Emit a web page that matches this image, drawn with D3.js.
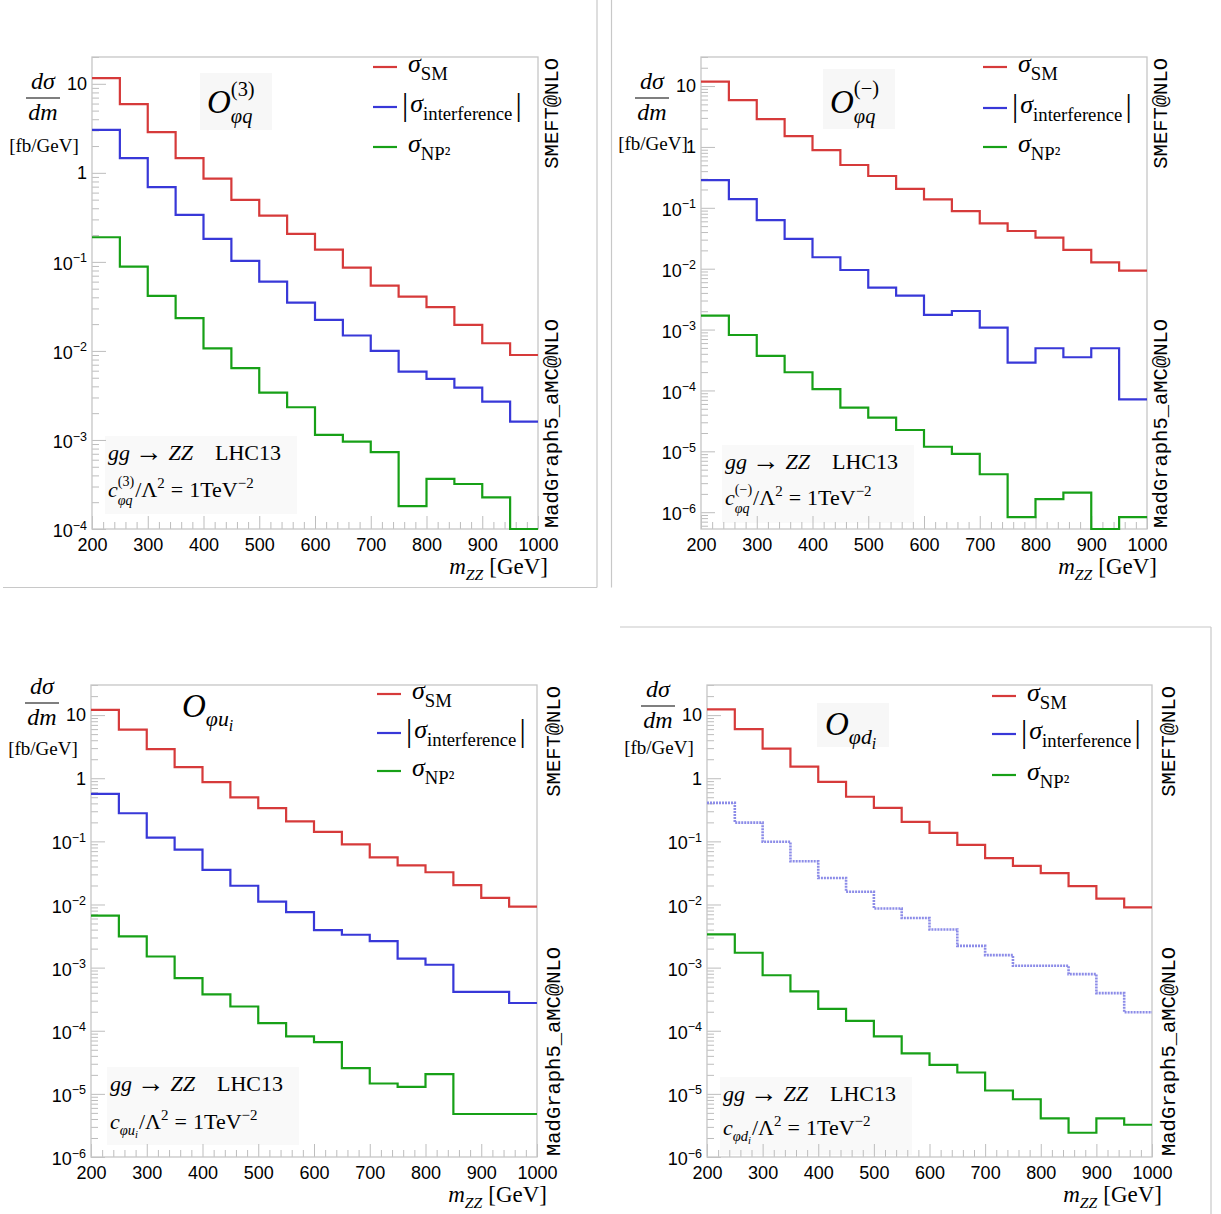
<!DOCTYPE html>
<html>
<head>
<meta charset="utf-8">
<script src="https://cdn.jsdelivr.net/npm/d3@7"></script>
<style>
  body { margin: 0; background: #fff; }
  svg { display: block; }
</style>
</head>
<body>
<svg id="fig" width="1221" height="1214"></svg>
<script>
// ---- bin edges of m_ZZ [GeV] and axis tick values ----
const massEdges = [200, 250, 300, 350, 400, 450, 500, 550, 600, 650, 700, 750, 800, 850, 900, 950, 1000];
const xTickValues = [200, 300, 400, 500, 600, 700, 800, 900, 1000];
const xTickLabels = ["200", "300", "400", "500", "600", "700", "800", "900", "1000"];

// ---- O_phiq^(3) : dsigma/dm [fb/GeV] per bin ----
const smPhiq3  = [11.6, 5.9, 2.87, 1.46, 0.863, 0.497, 0.331, 0.206, 0.137, 0.0863, 0.0542, 0.0407, 0.031, 0.0196, 0.0122, 0.0090];
const intPhiq3 = [3.04, 1.46, 0.69, 0.337, 0.181, 0.1025, 0.0601, 0.0349, 0.0223, 0.0149, 0.0100, 0.00585, 0.00485, 0.00387, 0.00269, 0.00161];
const np2Phiq3 = [0.189, 0.0885, 0.0415, 0.0233, 0.0107, 0.0064, 0.0034, 0.00233, 0.00114, 0.00096, 0.00073, 0.000181, 0.000365, 0.00032, 0.000227, 0.00009];

// ---- O_phiq^(-) ----
const smPhiqM  = [11.8, 5.89, 2.87, 1.51, 0.889, 0.505, 0.333, 0.204, 0.138, 0.0885, 0.0556, 0.0416, 0.0323, 0.0203, 0.0127, 0.00927];
const intPhiqM = [0.286, 0.139, 0.063, 0.0308, 0.0154, 0.00952, 0.00488, 0.0036, 0.00174, 0.00202, 0.00108, 0.000286, 0.000493, 0.000351, 0.000493, 0.0000716];
const np2PhiqM = [0.00169, 0.000815, 0.000369, 0.000199, 0.000105, 0.0000522, 0.0000358, 0.0000224, 0.0000119, 0.00000906, 0.0000042, 0.00000083, 0.00000164, 0.0000021, 0.00000045, 0.00000083];

// ---- O_phiu_i ----
const smPhiu  = [12.1, 5.87, 2.9, 1.5, 0.871, 0.499, 0.337, 0.208, 0.141, 0.0893, 0.0559, 0.0418, 0.0324, 0.0203, 0.0127, 0.00927];
const intPhiu = [0.566, 0.279, 0.115, 0.0738, 0.0354, 0.0198, 0.0111, 0.00757, 0.00392, 0.00332, 0.00262, 0.00139, 0.00111, 0.000412, 0.000412, 0.000275];
const np2Phiu = [0.00667, 0.00312, 0.0015, 0.000684, 0.000377, 0.000242, 0.000132, 0.0000817, 0.0000659, 0.0000255, 0.0000146, 0.0000129, 0.0000206, 0.0000048, 0.0000048, 0.0000048];

// ---- O_phid_i ----
const smPhid  = [12.3, 5.98, 2.94, 1.53, 0.877, 0.509, 0.34, 0.203, 0.136, 0.0883, 0.0542, 0.041, 0.0315, 0.0196, 0.0124, 0.0090];
const intPhid = [0.407, 0.198, 0.0986, 0.0485, 0.0263, 0.0159, 0.00864, 0.0061, 0.00402, 0.00221, 0.00158, 0.00107, 0.00107, 0.000789, 0.000394, 0.000196];
const np2Phid = [0.00336, 0.00172, 0.000757, 0.000422, 0.000222, 0.000143, 0.0000817, 0.0000437, 0.0000288, 0.0000218, 0.0000113, 0.00000822, 0.0000041, 0.00000242, 0.0000041, 0.00000324];

const COLORS = { sm: "#d63a3a", int: "#3838d8", np2: "#17a017" };
const SERIF = "'Liberation Serif', 'Times New Roman', serif";
const SANS = "'Liberation Sans', Arial, sans-serif";
const MONO = "'Liberation Mono', 'Courier New', monospace";
const GRID = "#bdbdbd";

const svg = d3.select("#fig");
svg.append("rect").attr("width", 1221).attr("height", 1214).attr("fill", "#fff");

// ---- small helper for typeset formulas (italic runs, sub/superscripts, stacked scripts) ----
function run(g, x, y, parts, fs) {
  const t = g.append("text").attr("x", x).attr("y", y)
    .attr("font-family", SERIF).attr("font-size", fs).attr("fill", "#000");
  parts.forEach(p => t.append("tspan").attr("font-style", p.it ? "italic" : "normal").text(p.t));
  return t.node().getComputedTextLength();
}
function mathText(parent, x, y, segs, size, anchor) {
  const g = parent.append("g");
  let cx = 0;
  for (const s of segs) {
    if (s.gap !== undefined) { cx += s.gap; continue; }
    if (s.stack) {
      const fs = size * (s.scale || 0.66);
      const w1 = run(g, cx, -size * (s.supDy || 0.45), s.sup, fs);
      const w2 = run(g, cx, size * (s.subDy || 0.3), s.sub, fs);
      cx += Math.max(w1, w2);
      continue;
    }
    cx += run(g, cx, (s.dy || 0) * size, [s], size * (s.scale || 1));
  }
  const shift = anchor === "end" ? -cx : anchor === "middle" ? -cx / 2 : 0;
  g.attr("transform", `translate(${x + shift},${y})`);
  return g;
}

// ---- panel definitions ----
const panels = [
  {
    left: 92, right: 538, top: 57, bottom: 529, yDomain: [1e-4, 20],
    sm: smPhiq3, int: intPhiq3, np2: np2Phiq3, intDashed: false,
    title: [{ t: "O", it: true }, { stack: true, sup: [{ t: "(3)" }], sub: [{ t: "φq", it: true }], supDy: 0.52, subDy: 0.3, scale: 0.62 }],
    titlePos: [115, 56], titleBox: [108, 16, 72, 57],
    coeff: [{ t: "c", it: true }, { stack: true, sup: [{ t: "(3)" }], sub: [{ t: "φq", it: true }], supDy: 0.5, subDy: 0.38, scale: 0.64 }],
    annot: [16, 69, 32],
    legend: { line: 165, text: 130, rows: [67, 107, 147] },
    yLab: { line: 98, fb: 54 }, sideX: 13
  },
  {
    left: 701, right: 1147, top: 57, bottom: 529, yDomain: [5.3e-7, 30],
    sm: smPhiqM, int: intPhiqM, np2: np2PhiqM, intDashed: false,
    title: [{ t: "O", it: true }, { stack: true, sup: [{ t: "(−)" }], sub: [{ t: "φq", it: true }], supDy: 0.55, subDy: 0.3, scale: 0.62 }],
    titlePos: [129, 56], titleBox: [122, 12, 72, 60],
    coeff: [{ t: "c", it: true }, { stack: true, sup: [{ t: "(−)" }], sub: [{ t: "φq", it: true }], supDy: 0.5, subDy: 0.38, scale: 0.64 }],
    annot: [24, 60, 24],
    legend: { line: 164, text: 129, rows: [67, 108, 147] },
    yLab: { line: 98, fb: 52 }, sideX: 13
  },
  {
    left: 91, right: 537, top: 685, bottom: 1157, yDomain: [1e-6, 30],
    sm: smPhiu, int: intPhiu, np2: np2Phiu, intDashed: false,
    title: [{ t: "O", it: true }, { t: "φu", it: true, dy: 0.28, scale: 0.66 }, { t: "i", it: true, dy: 0.42, scale: 0.48 }],
    titlePos: [91, 32], titleBox: null,
    coeff: [{ t: "c", it: true }, { t: "φu", it: true, dy: 0.28, scale: 0.66 }, { t: "i", it: true, dy: 0.42, scale: 0.48 }],
    annot: [19, 66, 28],
    legend: { line: 160, text: 125, rows: [694, 733, 771] },
    yLab: { line: 703, fb: 52 }, sideX: 16
  },
  {
    left: 707, right: 1152, top: 685, bottom: 1157, yDomain: [1e-6, 30],
    sm: smPhid, int: intPhid, np2: np2Phid, intDashed: true,
    title: [{ t: "O", it: true }, { t: "φd", it: true, dy: 0.28, scale: 0.66 }, { t: "i", it: true, dy: 0.42, scale: 0.48 }],
    titlePos: [118, 50], titleBox: [110, 18, 72, 44],
    coeff: [{ t: "c", it: true }, { t: "φd", it: true, dy: 0.28, scale: 0.66 }, { t: "i", it: true, dy: 0.42, scale: 0.48 }],
    annot: [16, 56, 22],
    legend: { line: 160, text: 125, rows: [696, 734, 775] },
    yLab: { line: 706, fb: 48 }, sideX: 16
  }
];

// ---- thin page separators between the four figures ----
const sep = svg.append("g").attr("stroke", "#c8c8c8").attr("stroke-width", 1.2).attr("fill", "none");
sep.append("line").attr("x1", 3).attr("x2", 597).attr("y1", 587.5).attr("y2", 587.5);
sep.append("line").attr("x1", 597).attr("x2", 597).attr("y1", 0).attr("y2", 587.5);
sep.append("line").attr("x1", 611.5).attr("x2", 611.5).attr("y1", 0).attr("y2", 587.5);
sep.append("line").attr("x1", 620).attr("x2", 1211).attr("y1", 627).attr("y2", 627);
sep.append("line").attr("x1", 1211).attr("x2", 1211).attr("y1", 627).attr("y2", 1214);

function drawPanel(p) {
  const g = svg.append("g");
  const x = d3.scaleLinear().domain([200, 1000]).range([p.left, p.right]);
  const y = d3.scaleLog().domain(p.yDomain).range([p.bottom, p.top]).clamp(true);

  // faint boxes behind the operator name and the process annotation
  if (p.titleBox) {
    g.append("rect").attr("x", p.left + p.titleBox[0]).attr("y", p.top + p.titleBox[1])
      .attr("width", p.titleBox[2]).attr("height", p.titleBox[3]).attr("fill", "#f7f7f7");
  }
  g.append("rect").attr("x", p.left + p.annot[0] - 3).attr("y", p.bottom - p.annot[1] - 24)
    .attr("width", 192).attr("height", 78).attr("fill", "#f9f9f9");

  // x axis: major and minor ticks pointing into the frame
  const xMinor = d3.range(220, 1000, 20).filter(v => v % 100 !== 0);
  const xm = g.append("g").attr("transform", `translate(0,${p.bottom})`)
    .call(d3.axisBottom(x).tickValues(xMinor).tickSize(-7).tickFormat(""));
  const xa = g.append("g").attr("transform", `translate(0,${p.bottom})`)
    .call(d3.axisBottom(x).tickValues(xTickValues).tickSize(-13).tickPadding(9)
      .tickFormat((d, i) => xTickLabels[i]));

  // y axis: decades labelled, 2..9 as minor ticks
  const lo = Math.floor(Math.log10(p.yDomain[0])), hi = Math.ceil(Math.log10(p.yDomain[1]));
  const yMajor = [], yMinor = [];
  for (let e = lo; e <= hi; e++) {
    const b = Math.pow(10, e);
    if (b >= p.yDomain[0] * 0.999 && b <= p.yDomain[1]) yMajor.push(b);
    for (let k = 2; k <= 9; k++) {
      const v = k * b;
      if (v >= p.yDomain[0] && v <= p.yDomain[1]) yMinor.push(v);
    }
  }
  const ym = g.append("g").attr("transform", `translate(${p.left},0)`)
    .call(d3.axisLeft(y).tickValues(yMinor).tickSize(-7).tickFormat(""));
  const ya = g.append("g").attr("transform", `translate(${p.left},0)`)
    .call(d3.axisLeft(y).tickValues(yMajor).tickSize(-14).tickPadding(5).tickFormat(() => ""));
  ya.selectAll(".tick text").each(function (d) {
    const e = Math.round(Math.log10(d));
    const t = d3.select(this);
    if (e === 1) t.text("10");
    else if (e === 0) t.text("1");
    else {
      t.attr("dy", "0.42em");
      t.append("tspan").text("10");
      t.append("tspan").attr("dy", "-0.6em").attr("font-size", "12.5px").text("−" + (-e));
    }
  });

  [xm, xa, ym, ya].forEach(a => {
    a.select(".domain").remove();
    a.selectAll(".tick line").attr("stroke", GRID).attr("stroke-width", 1);
    a.selectAll(".tick text").attr("font-family", SANS).attr("font-size", 18).attr("fill", "#000");
  });

  // frame
  g.append("rect").attr("x", p.left).attr("y", p.top)
    .attr("width", p.right - p.left).attr("height", p.bottom - p.top)
    .attr("fill", "none").attr("stroke", "#c6c6c6").attr("stroke-width", 1.3);

  // step histograms
  const step = d3.line().x(d => x(d[0])).y(d => y(d[1])).curve(d3.curveStepAfter);
  const series = [
    { vals: p.sm, color: COLORS.sm },
    { vals: p.int, color: COLORS.int, dashed: p.intDashed },
    { vals: p.np2, color: COLORS.np2 }
  ];
  series.forEach(s => {
    const pts = s.vals.map((v, i) => [massEdges[i], v]);
    pts.push([massEdges[massEdges.length - 1], s.vals[s.vals.length - 1]]);
    const path = g.append("path").attr("d", step(pts)).attr("fill", "none")
      .attr("stroke", s.dashed ? "#8c8ce8" : s.color).attr("stroke-width", s.dashed ? 2.6 : 2.2);
    if (s.dashed) path.attr("stroke-dasharray", "2,1");
  });

  // y-axis title: dσ/dm [fb/GeV]
  const cx = p.left - 49, ly = p.yLab.line;
  mathText(g, cx, ly - 9, [{ t: "d", it: true }, { t: "σ", it: true }], 24, "middle");
  g.append("line").attr("x1", cx - 17).attr("x2", cx + 17).attr("y1", ly).attr("y2", ly)
    .attr("stroke", "#000").attr("stroke-width", 1.1);
  mathText(g, cx, ly + 22, [{ t: "dm", it: true }], 24, "middle");
  g.append("text").attr("x", cx + 1).attr("y", ly + p.yLab.fb).attr("text-anchor", "middle")
    .attr("font-family", SERIF).attr("font-size", 19).text("[fb/GeV]");

  // x-axis title
  mathText(g, p.right + 10, p.bottom + 45,
    [{ t: "m", it: true }, { t: "ZZ", it: true, dy: 0.28, scale: 0.68 }, { gap: 6 }, { t: "[GeV]" }], 23, "end");

  // operator name
  mathText(g, p.left + p.titlePos[0], p.top + p.titlePos[1], p.title, 33);

  // process and coefficient annotation
  mathText(g, p.left + p.annot[0], p.bottom - p.annot[1],
    [{ t: "gg", it: true }, { gap: 5 }, { t: "→", scale: 1.25, dy: 0.03 }, { gap: 6 }, { t: "ZZ", it: true }, { gap: 22 }, { t: "LHC13" }], 22);
  mathText(g, p.left + p.annot[0], p.bottom - p.annot[2],
    p.coeff.concat([{ gap: 1 }, { t: "/Λ" }, { t: "2", dy: -0.42, scale: 0.68 }, { gap: 6 }, { t: "=" }, { gap: 6 },
      { t: "1TeV" }, { t: "−2", dy: -0.42, scale: 0.68 }]), 22);

  // legend
  const lg = p.legend;
  const lx0 = p.right - lg.line, tx = p.right - lg.text;
  const labels = [
    [{ t: "σ", it: true }, { t: "SM", dy: 0.3, scale: 0.72 }],
    [{ t: "|", scale: 1.2, dy: 0.1 }, { gap: 2 }, { t: "σ", it: true }, { t: "interference", dy: 0.3, scale: 0.72 }, { gap: 3 }, { t: "|", scale: 1.2, dy: 0.1 }],
    [{ t: "σ", it: true }, { t: "NP²", dy: 0.3, scale: 0.72 }]
  ];
  [COLORS.sm, COLORS.int, COLORS.np2].forEach((c, i) => {
    const ry = lg.rows[i];
    g.append("line").attr("x1", lx0).attr("x2", lx0 + 24).attr("y1", ry).attr("y2", ry)
      .attr("stroke", c).attr("stroke-width", 2.2);
    mathText(g, i === 1 ? tx - 6 : tx, ry + 5, labels[i], 26);
  });

  // generator tags along the right edge
  const sx = p.right + p.sideX + 7;
  g.append("text").attr("transform", `translate(${sx},${p.top + 1}) rotate(-90)`)
    .attr("text-anchor", "end").attr("font-family", MONO).attr("font-size", 20.5).text("SMEFT@NLO");
  g.append("text").attr("transform", `translate(${sx},${p.bottom - 1}) rotate(-90)`)
    .attr("text-anchor", "start").attr("font-family", MONO).attr("font-size", 20.5).text("MadGraph5_aMC@NLO");
}

panels.forEach(drawPanel);
</script>
</body>
</html>
